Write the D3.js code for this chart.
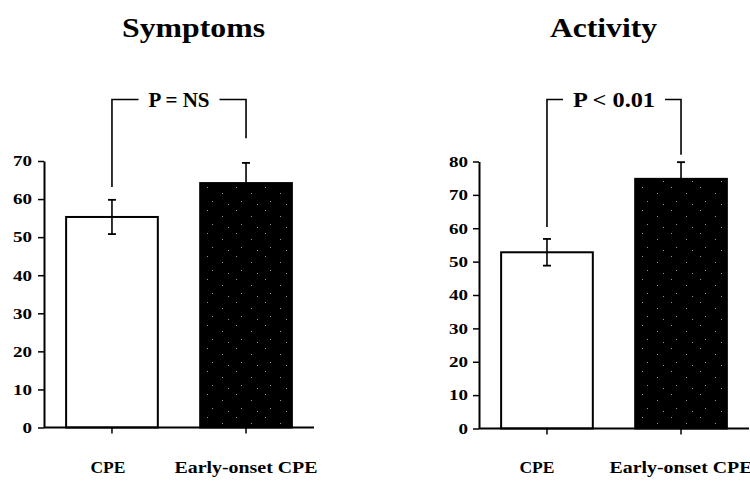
<!DOCTYPE html>
<html>
<head>
<meta charset="utf-8">
<script src="https://cdn.jsdelivr.net/npm/d3@7"></script>
<style>
  html, body { margin: 0; padding: 0; background: #fff; }
  svg { display: block; }
  text { font-family: "Liberation Serif", "Times New Roman", serif; font-weight: bold; fill: #000; }
</style>
</head>
<body>
<script>
// ---- data ----
const categories = ["CPE", "Early-onset CPE"];
const titles = ["Symptoms", "Activity"];
const pLabels = ["P = NS", "P < 0.01"];
const symptomsMeans = [55.3, 64.2];
const symptomsErrors = [4.5, 5.3];
const activityMeans = [52.8, 74.8];
const activityErrors = [4.0, 5.0];
const symptomsTicks = [0, 10, 20, 30, 40, 50, 60, 70];
const activityTicks = [0, 10, 20, 30, 40, 50, 60, 70, 80];
// bracket drop ends (data units)
const symptomsBracketEnds = [63.2, 76];
const activityBracketEnds = [60.4, 82];

// ---- layout ----
const W = 750, H = 488;
const svg = d3.select("body").append("svg").attr("width", W).attr("height", H);

const defs = svg.append("defs");
const pat = defs.append("pattern").attr("id", "speck").attr("patternUnits", "userSpaceOnUse")
  .attr("width", 29).attr("height", 23);
pat.append("rect").attr("width", 29).attr("height", 23).attr("fill", "#000");
[[4, 3], [19, 9], [9, 17], [25, 20]].forEach(([cx, cy]) =>
  pat.append("rect").attr("x", cx).attr("y", cy).attr("width", 1).attr("height", 1).attr("fill", "#999"));

const panels = [
  { title: titles[0], means: symptomsMeans, errs: symptomsErrors, ticks: symptomsTicks,
    axisX: 44, y0: 427.5, yTop: 161, titleX: 193.5, titleW: 143, p: pLabels[0], pW: 61,
    ends: symptomsBracketEnds, tickPad: 6, catDx: -4 },
  { title: titles[1], means: activityMeans, errs: activityErrors, ticks: activityTicks,
    axisX: 479, y0: 428.5, yTop: 161.5, titleX: 603.5, titleW: 107, p: pLabels[1], pW: 82,
    ends: activityBracketEnds, tickPad: 5, catDx: -10 }
];

panels.forEach(P => {
  const g = svg.append("g");
  const x = d3.scaleBand().domain(categories)
    .range([P.axisX, P.axisX + 270]).paddingInner(0.316).paddingOuter(0.165);
  const maxT = d3.max(P.ticks);
  const y = d3.scaleLinear().domain([0, maxT]).range([P.y0, P.yTop]);
  const cx = c => x(c) + x.bandwidth() / 2;

  // title
  g.append("text").attr("x", P.titleX).attr("y", 37).attr("text-anchor", "middle")
    .attr("font-size", 28).attr("textLength", P.titleW).attr("lengthAdjust", "spacingAndGlyphs")
    .text(P.title);

  // bars
  g.selectAll("rect.bar").data(categories).join("rect").attr("class", "bar")
    .attr("x", d => x(d)).attr("width", x.bandwidth())
    .attr("y", (d, i) => y(P.means[i]))
    .attr("height", (d, i) => P.y0 - y(P.means[i]))
    .attr("fill", (d, i) => i === 0 ? "#fff" : "url(#speck)")
    .attr("stroke", "#000").attr("stroke-width", 2);

  // error bars
  categories.forEach((c, i) => {
    const hi = y(P.means[i] + P.errs[i]), lo = y(P.means[i] - P.errs[i]);
    g.append("line").attr("x1", cx(c)).attr("x2", cx(c)).attr("y1", lo).attr("y2", hi)
      .attr("stroke", "#000").attr("stroke-width", 1.6);
    [hi, lo].forEach(yy => g.append("line").attr("x1", cx(c) - 4).attr("x2", cx(c) + 4)
      .attr("y1", yy).attr("y2", yy).attr("stroke", "#000").attr("stroke-width", 1.8));
  });

  // y axis
  const ya = g.append("g").attr("transform", `translate(${P.axisX},0)`)
    .call(d3.axisLeft(y).tickValues(P.ticks).tickSize(6).tickSizeOuter(0).tickPadding(P.tickPad));
  ya.select(".domain").attr("stroke", "#000").attr("stroke-width", 2);
  ya.selectAll(".tick line").attr("stroke", "#000").attr("stroke-width", 1.5);
  ya.selectAll(".tick text").attr("font-size", 15)
    .attr("font-family", "Liberation Serif, Times New Roman, serif").attr("font-weight", "bold")
    .attr("textLength", d => String(d).length * 9.5).attr("lengthAdjust", "spacingAndGlyphs");

  // x baseline + ticks
  g.append("line").attr("x1", P.axisX).attr("x2", Math.min(P.axisX + 270, 749))
    .attr("y1", P.y0).attr("y2", P.y0).attr("stroke", "#000").attr("stroke-width", 2);
  categories.forEach(c => g.append("line").attr("x1", cx(c)).attr("x2", cx(c))
    .attr("y1", P.y0).attr("y2", P.y0 + 6).attr("stroke", "#000").attr("stroke-width", 1.5));

  // category labels
  g.selectAll("text.cat").data(categories).join("text").attr("class", "cat")
    .attr("x", (d, i) => cx(d) + (i === 0 ? P.catDx : 0)).attr("y", 473).attr("text-anchor", "middle")
    .attr("font-size", 17)
    .attr("textLength", (d, i) => i === 0 ? 35 : 143).attr("lengthAdjust", "spacingAndGlyphs")
    .text(d => d);

  // significance bracket
  const top = 99.5;
  const xL = cx(categories[0]), xR = cx(categories[1]);
  const mid = (xL + xR) / 2;
  const gap = 10;
  g.append("text").attr("x", mid).attr("y", 107).attr("text-anchor", "middle")
    .attr("font-size", 20).attr("textLength", P.pW).attr("lengthAdjust", "spacingAndGlyphs")
    .text(P.p);
  const path = d3.path();
  path.moveTo(xL, y(P.ends[0])); path.lineTo(xL, top); path.lineTo(mid - P.pW / 2 - gap, top);
  path.moveTo(mid + P.pW / 2 + gap, top); path.lineTo(xR, top); path.lineTo(xR, y(P.ends[1]));
  g.append("path").attr("d", path.toString()).attr("fill", "none")
    .attr("stroke", "#000").attr("stroke-width", 1.6);
});
</script>
</body>
</html>
